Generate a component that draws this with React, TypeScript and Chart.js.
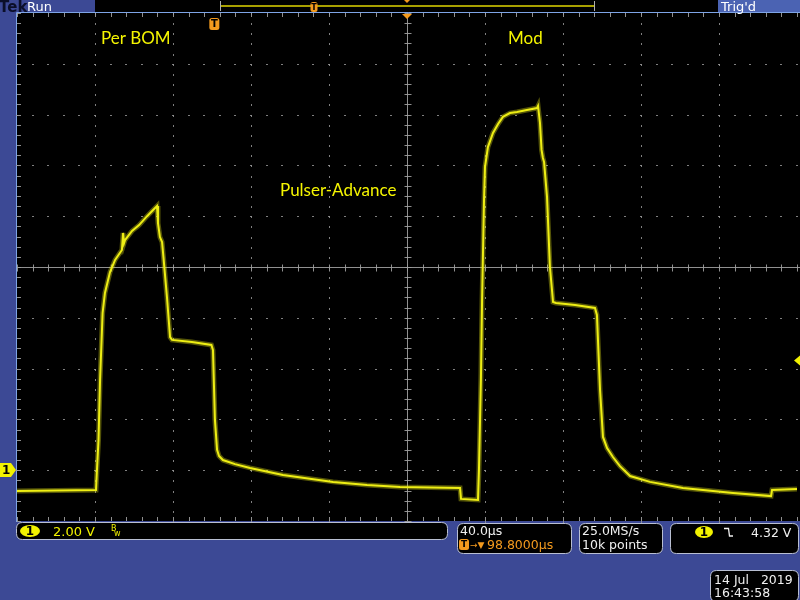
import React, { useEffect, useRef } from "react";
import { Chart, registerables } from "chart.js";

Chart.register(...registerables);

// ---- Data (time relative to screen centre, µs; channel 1 voltage, V) ----
const timeUs = [
  -200, -159.5, -159.0, -158.2, -157.4, -156.1, -154.9, -152.3, -149.7, -146.2,
  -145.6, -145.1, -144.6, -141.0, -137.4, -133.3, -129.2, -128.2, -127.7, -126.7,
  -125.6, -124.9, -123.1, -121.5, -120.5, -110.3, -100.3, -99.5, -98.5, -97.4,
  -96.4, -94.4, -88.2, -80.5, -63.6, -37.9, -20.5, -3.6, 27.2, 27.7,
  36.4, 36.9, 37.9, 38.5, 39.5, 40.0, 41.5, 44.1, 46.7, 49.2,
  52.8, 56.4, 61.5, 66.7, 67.2, 68.2, 69.0, 69.7, 70.3, 71.8,
  73.3, 74.9, 76.4, 86.2, 96.4, 97.4, 99.0, 100.5, 102.6, 105.6,
  109.2, 114.4, 124.6, 141.5, 167.2, 186.7, 187.2, 200,
];
const ch1Volts = [
  -0.82, -0.78, 0.0, 1.19, 3.55, 6.19, 6.98, 7.8, 8.28, 8.67,
  9.34, 8.94, 9.06, 9.42, 9.65, 10.0, 10.32, 10.4, 9.73, 9.18,
  8.98, 8.39, 6.82, 5.24, 5.13, 5.05, 4.93, 4.73, 1.98, 0.8,
  0.56, 0.4, 0.24, 0.09, -0.19, -0.46, -0.58, -0.66, -0.7, -1.13,
  -1.17, 0.0, 3.55, 6.7, 10.64, 11.94, 12.72, 13.28, 13.63, 13.91,
  14.06, 14.1, 14.18, 14.26, 14.34, 13.67, 12.61, 12.29, 12.13, 10.76,
  8.0, 6.62, 6.58, 6.5, 6.39, 6.11, 3.16, 1.31, 0.87, 0.52,
  0.16, -0.23, -0.46, -0.7, -0.9, -1.02, -0.78, -0.74,
];

// axis settings: 40 µs/div, 2 V/div, 10 x 10 divisions
const timeRange = [-200, 200];
const voltRange = [-2, 18];
const timePerDiv = 40;
const voltsPerDiv = 2;
const triggerTimeUs = -98.8; // trigger point relative to centre
const triggerLevelV = 4.32;

// annotations and readouts
const annotations = [
  { text: "Per BOM", x: 101, y: 44 },
  { text: "Mod", x: 508, y: 44 },
  { text: "Pulser-Advance", x: 280, y: 196 },
];
const ch1Scale = "2.00 V";
const timebase = "40.0µs";
const delayText = "98.8000µs";
const sampleRate = "25.0MS/s";
const recordLength = "10k points";
const trigLevelText = "4.32 V";
const dateText = "14 Jul   2019";
const timeText = "16:43:58";

const BLUE = "#3c4995";
const TRACE = "rgb(238,238,20)";
const ORANGE = "#f39a1e";
const GRID = "rgba(150,150,150,0.85)";
const FONT = "'DejaVu Sans', sans-serif";

function roundBox(ctx: CanvasRenderingContext2D, x: number, y: number, w: number, h: number, r: number) {
  ctx.beginPath();
  ctx.moveTo(x + r, y);
  ctx.lineTo(x + w - r, y);
  ctx.quadraticCurveTo(x + w, y, x + w, y + r);
  ctx.lineTo(x + w, y + h - r);
  ctx.quadraticCurveTo(x + w, y + h, x + w - r, y + h);
  ctx.lineTo(x + r, y + h);
  ctx.quadraticCurveTo(x, y + h, x, y + h - r);
  ctx.lineTo(x, y + r);
  ctx.quadraticCurveTo(x, y, x + r, y);
  ctx.closePath();
}

function infoBox(ctx: CanvasRenderingContext2D, x: number, y: number, w: number, h: number) {
  roundBox(ctx, x + 0.5, y + 0.5, w, h, 6);
  ctx.fillStyle = "#000";
  ctx.fill();
  ctx.strokeStyle = "#b9bfd2";
  ctx.lineWidth = 1;
  ctx.stroke();
}

function tMarker(ctx: CanvasRenderingContext2D, cx: number, top: number, w: number, h: number) {
  ctx.fillStyle = ORANGE;
  roundBox(ctx, cx - w / 2, top, w, h, 2.5);
  ctx.fill();
  ctx.fillStyle = "#000";
  ctx.font = `bold ${Math.round(h * 0.8)}px ${FONT}`;
  ctx.textAlign = "center";
  ctx.textBaseline = "middle";
  ctx.fillText("T", cx, top + h / 2 + 0.5);
  ctx.textAlign = "left";
  ctx.textBaseline = "alphabetic";
}

function badge(ctx: CanvasRenderingContext2D, cx: number, cy: number, rx: number, ry: number) {
  ctx.fillStyle = "#f2f200";
  ctx.beginPath();
  ctx.ellipse(cx, cy, rx, ry, 0, 0, Math.PI * 2);
  ctx.fill();
  ctx.fillStyle = "#000";
  ctx.font = `bold 12px ${FONT}`;
  ctx.textAlign = "center";
  ctx.textBaseline = "middle";
  ctx.fillText("1", cx, cy + 0.5);
  ctx.textAlign = "left";
  ctx.textBaseline = "alphabetic";
}

const scopePlugin = {
  id: "scopeDecor",
  beforeDraw(chart: any) {
    const { ctx, chartArea: a } = chart;
    ctx.save();
    ctx.fillStyle = BLUE;
    ctx.fillRect(0, 0, chart.width, chart.height);
    // top status strip
    ctx.fillStyle = "#000";
    ctx.fillRect(95, 0, 623, 12);
    ctx.fillStyle = "#4b63b3";
    ctx.fillRect(718, 0, 82, 12);
    // plot background
    ctx.fillStyle = "#000";
    ctx.fillRect(a.left, a.top, chart.width - a.left, a.bottom - a.top);
    // plot border (left/top light blue)
    ctx.strokeStyle = "#7ea4e6";
    ctx.lineWidth = 1;
    ctx.beginPath();
    ctx.moveTo(a.left - 0.5, a.bottom + 1);
    ctx.lineTo(a.left - 0.5, a.top - 0.5);
    ctx.lineTo(chart.width, a.top - 0.5);
    ctx.stroke();
    ctx.restore();
  },
  beforeDatasetsDraw(chart: any) {
    const { ctx, chartArea: a, scales } = chart;
    const xs = scales.x;
    const ys = scales.y;
    ctx.save();
    const minorT = timePerDiv / 5;
    const minorV = voltsPerDiv / 5;
    const xCenter = (timeRange[0] + timeRange[1]) / 2;
    const yCenter = (voltRange[0] + voltRange[1]) / 2;
    ctx.fillStyle = GRID;
    // dotted vertical grid lines
    for (let t = timeRange[0] + timePerDiv; t < timeRange[1]; t += timePerDiv) {
      if (Math.abs(t - xCenter) < 1e-6) continue;
      const px = Math.round(xs.getPixelForValue(t));
      for (let v = voltRange[0]; v <= voltRange[1] + 1e-6; v += minorV) {
        const py = Math.round(ys.getPixelForValue(v));
        ctx.fillRect(px, py, 1, 2);
      }
    }
    // dotted horizontal grid lines
    for (let v = voltRange[0] + voltsPerDiv; v < voltRange[1]; v += voltsPerDiv) {
      if (Math.abs(v - yCenter) < 1e-6) continue;
      const py = Math.round(ys.getPixelForValue(v));
      for (let t = timeRange[0]; t <= timeRange[1] + 1e-6; t += minorT) {
        const px = Math.round(xs.getPixelForValue(t));
        ctx.fillRect(px - 1, py, 2, 1);
      }
    }
    // centre cross
    ctx.strokeStyle = "rgba(160,160,160,0.9)";
    ctx.lineWidth = 1;
    const cx = Math.round(xs.getPixelForValue(xCenter)) + 0.5;
    const cy = Math.round(ys.getPixelForValue(yCenter)) + 0.5;
    ctx.beginPath();
    ctx.moveTo(cx, a.top);
    ctx.lineTo(cx, a.bottom);
    ctx.moveTo(a.left, cy);
    ctx.lineTo(chart.width, cy);
    for (let t = timeRange[0]; t <= timeRange[1] + 1e-6; t += minorT) {
      const px = Math.round(xs.getPixelForValue(t)) + 0.5;
      ctx.moveTo(px, cy - 3);
      ctx.lineTo(px, cy + 4);
      ctx.moveTo(px, a.top);
      ctx.lineTo(px, a.top + 4);
      ctx.moveTo(px, a.bottom - 4);
      ctx.lineTo(px, a.bottom);
    }
    for (let v = voltRange[0]; v <= voltRange[1] + 1e-6; v += minorV) {
      const py = Math.round(ys.getPixelForValue(v)) + 0.5;
      ctx.moveTo(cx - 3, py);
      ctx.lineTo(cx + 4, py);
      ctx.moveTo(a.left, py);
      ctx.lineTo(a.left + 4, py);
    }
    ctx.stroke();
    ctx.restore();
  },
  afterDraw(chart: any) {
    const { ctx, chartArea: a, scales } = chart;
    const xs = scales.x;
    const ys = scales.y;
    ctx.save();

    // ---- top strip ----
    ctx.font = `bold 15px ${FONT}`;
    ctx.fillStyle = "#0b0f2a";
    ctx.fillText("Tek", -1, 12);
    ctx.font = `13px ${FONT}`;
    ctx.fillStyle = "#ffffff";
    ctx.fillText("Run", 27, 11);
    ctx.fillText("Trig'd", 721, 11);
    // record view
    ctx.strokeStyle = "#a8a000";
    ctx.lineWidth = 2;
    ctx.beginPath();
    ctx.moveTo(221, 6);
    ctx.lineTo(594, 6);
    ctx.stroke();
    ctx.strokeStyle = "#b0b0b0";
    ctx.lineWidth = 1;
    ctx.beginPath();
    ctx.moveTo(220.5, 1);
    ctx.lineTo(220.5, 11);
    ctx.moveTo(594.5, 1);
    ctx.lineTo(594.5, 11);
    ctx.stroke();
    tMarker(ctx, 314, 2, 7, 10);
    const xc = xs.getPixelForValue(0);
    ctx.fillStyle = ORANGE;
    ctx.beginPath();
    ctx.moveTo(xc - 3, 0);
    ctx.lineTo(xc + 3, 0);
    ctx.lineTo(xc, 3);
    ctx.closePath();
    ctx.fill();

    // ---- markers in plot ----
    ctx.fillStyle = ORANGE;
    ctx.beginPath();
    ctx.moveTo(xc - 5, a.top + 1);
    ctx.lineTo(xc + 5, a.top + 1);
    ctx.lineTo(xc, a.top + 6);
    ctx.closePath();
    ctx.fill();
    const xt = xs.getPixelForValue(triggerTimeUs);
    tMarker(ctx, xt, a.top + 5, 10, 12);

    // channel 1 ground marker
    const yg = Math.round(ys.getPixelForValue(0));
    ctx.fillStyle = "#f2f200";
    ctx.beginPath();
    ctx.moveTo(0, yg - 7);
    ctx.lineTo(11, yg - 7);
    ctx.lineTo(16, yg);
    ctx.lineTo(11, yg + 7);
    ctx.lineTo(0, yg + 7);
    ctx.closePath();
    ctx.fill();
    ctx.fillStyle = "#000";
    ctx.font = `bold 12px ${FONT}`;
    ctx.textBaseline = "middle";
    ctx.fillText("1", 2, yg + 0.5);
    ctx.textBaseline = "alphabetic";

    // trigger level marker (right edge)
    const yl = ys.getPixelForValue(triggerLevelV);
    ctx.fillStyle = "#f2f200";
    ctx.beginPath();
    ctx.moveTo(800, yl - 5);
    ctx.lineTo(794, yl);
    ctx.lineTo(800, yl + 5);
    ctx.closePath();
    ctx.fill();

    // annotations
    ctx.fillStyle = "#f5f500";
    ctx.font = `17px 'Lato', 'Open Sans', sans-serif`;
    annotations.forEach((an) => ctx.fillText(an.text, an.x, an.y));

    // ---- bottom readouts ----
    infoBox(ctx, 16, 522, 431, 17);
    badge(ctx, 30, 531, 10, 6);
    ctx.fillStyle = "#f2f200";
    ctx.font = `13px ${FONT}`;
    ctx.fillText(ch1Scale, 53, 536);
    ctx.font = `8px ${FONT}`;
    ctx.fillText("B", 111, 531);
    ctx.fillText("w", 114, 536);

    infoBox(ctx, 457, 523, 114, 30);
    ctx.fillStyle = "#f0f0f0";
    ctx.font = `12.5px ${FONT}`;
    ctx.fillText(timebase, 460, 535);
    tMarker(ctx, 464, 539, 10, 11);
    ctx.fillStyle = ORANGE;
    ctx.font = `9px ${FONT}`;
    ctx.fillText("→▼", 470, 548);
    ctx.font = `12.5px ${FONT}`;
    ctx.fillText(delayText, 487, 549);

    infoBox(ctx, 579, 523, 83, 30);
    ctx.fillStyle = "#f0f0f0";
    ctx.font = `12.5px ${FONT}`;
    ctx.fillText(sampleRate, 582, 535);
    ctx.fillText(recordLength, 582, 549);

    infoBox(ctx, 670, 523, 128, 30);
    badge(ctx, 704, 532, 9, 6);
    ctx.strokeStyle = "#f0f0f0";
    ctx.lineWidth = 1.3;
    ctx.beginPath();
    ctx.moveTo(724, 528.5);
    ctx.lineTo(728.5, 528.5);
    ctx.lineTo(729.5, 536);
    ctx.lineTo(733, 536);
    ctx.stroke();
    ctx.fillStyle = "#f0f0f0";
    ctx.font = `12.5px ${FONT}`;
    ctx.fillText(trigLevelText, 751, 537);

    infoBox(ctx, 710, 570, 88, 31);
    ctx.fillStyle = "#f0f0f0";
    ctx.fillText(dateText, 714, 584);
    ctx.fillText(timeText, 714, 597);

    ctx.restore();
  },
};

export default function App() {
  const ref = useRef<HTMLCanvasElement | null>(null);
  useEffect(() => {
    if (!ref.current) return;
    const pts = timeUs.map((t, i) => ({ x: t, y: ch1Volts[i] }));
    const chart = new Chart(ref.current, {
      type: "line",
      data: {
        datasets: [
          {
            data: pts,
            borderColor: "rgba(238,238,20,0.35)",
            borderWidth: 5,
            pointRadius: 0,
            tension: 0,
            fill: false,
          },
          {
            data: pts,
            borderColor: TRACE,
            borderWidth: 2,
            pointRadius: 0,
            tension: 0,
            fill: false,
          },
        ],
      },
      options: {
        responsive: false,
        animation: false,
        devicePixelRatio: 1,
        parsing: false as any,
        layout: { padding: { left: 17, top: 13, right: 3, bottom: 79 } },
        scales: {
          x: { type: "linear", min: timeRange[0], max: timeRange[1], display: false },
          y: { type: "linear", min: voltRange[0], max: voltRange[1], display: false },
        },
        plugins: {
          legend: { display: false },
          tooltip: { enabled: false },
          title: { display: false },
        },
        events: [],
      },
      plugins: [scopePlugin],
    });
    return () => chart.destroy();
  }, []);
  return (
    <div style={{ position: "absolute", left: 0, top: 0, width: 800, height: 600 }}>
      <canvas ref={ref} width={800} height={600} style={{ display: "block" }} />
    </div>
  );
}
